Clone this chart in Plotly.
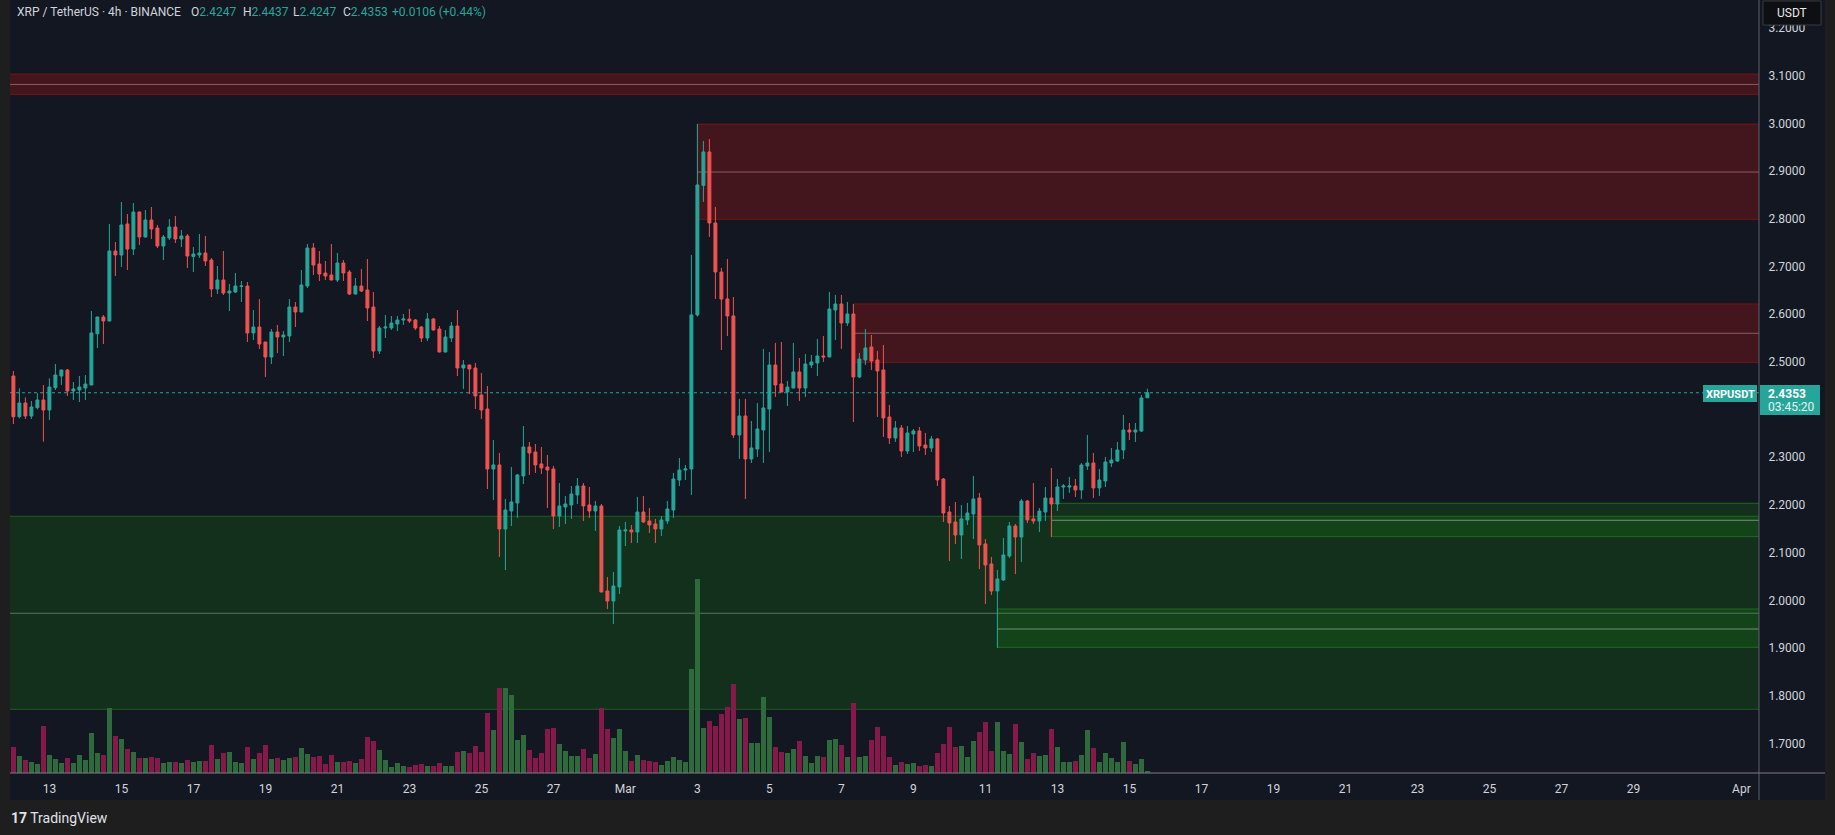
import plotly.graph_objects as go
import pandas as pd

# ---------------- data ----------------
opens = [2.4704,2.3851,2.4138,2.3865,2.4040,2.4201,2.3991,2.4460,2.4704,2.4830,
 2.4390,2.4411,2.4452,2.4515,2.5590,2.5941,2.5857,2.7325,2.7241,2.7891,
 2.7366,2.8142,2.7618,2.7974,2.7807,2.7429,2.7597,2.7828,2.7576,2.7639,
 2.7210,2.7241,2.7283,2.7136,2.6528,2.6717,2.6444,2.6465,2.6580,2.6591,
 2.5606,2.5731,2.5417,2.5102,2.5626,2.5522,2.5543,2.6151,2.6046,2.6591,
 2.7387,2.7052,2.6863,2.6821,2.6717,2.7073,2.6884,2.6423,2.6591,2.6507,
 2.6151,2.5228,2.5710,2.5710,2.5794,2.5878,2.5899,2.5878,2.5731,2.5501,
 2.5899,2.5689,2.5207,2.5501,2.5752,2.4872,2.4935,2.4872,2.4306,2.4012,
 2.2755,2.2839,2.1497,2.1874,2.2042,2.2608,2.3216,2.3111,2.2860,2.2797,
 2.2755,2.1769,2.1958,2.2000,2.2210,2.2398,2.2000,2.1874,2.1979,2.0197,
 1.9987,2.0281,2.1455,2.1476,2.1434,2.1853,2.1665,2.1602,2.1497,2.1665,
 2.1895,2.2524,2.2734,2.2755,2.5984,2.8700,2.9401,2.7912,2.6885,2.6319,
 2.5963,2.3468,2.3866,2.2965,2.3174,2.3573,2.4013,2.4935,2.4537,2.4369,
 2.4453,2.4789,2.4453,2.4935,2.4977,2.5124,2.5103,2.6088,2.6214,2.5816,
 2.6005,2.4684,2.5040,2.5313,2.5040,2.4831,2.3845,2.3405,2.3614,2.3132,
 2.3489,2.3552,2.3258,2.3195,2.3384,2.2545,2.1853,2.1644,2.1371,2.1686,
 2.1811,2.2147,2.1183,2.0763,2.0197,2.0428,2.0931,2.1560,2.1329,2.2084,
 2.1707,2.1665,2.1853,2.2147,2.2021,2.2377,2.2377,2.2398,2.2315,2.2818,
 2.2881,2.2357,2.2503,2.2881,2.2922,2.3153,2.3572,2.3530,2.3551,2.4247]
highs = [2.4809,2.4446,2.4257,2.4180,2.4341,2.4515,2.4655,2.4956,2.4835,2.4851,
 2.4578,2.4704,2.4725,2.6067,2.5945,2.5983,2.7891,2.7513,2.8352,2.8100,
 2.8331,2.8150,2.8184,2.8247,2.7870,2.7660,2.7995,2.8058,2.7765,2.7681,
 2.7408,2.7681,2.7639,2.7178,2.7010,2.7325,2.6633,2.6863,2.6696,2.6675,
 2.6088,2.6318,2.5420,2.5689,2.5773,2.5647,2.6318,2.6255,2.6926,2.7471,
 2.7492,2.7325,2.7115,2.7471,2.7283,2.7136,2.6926,2.6759,2.6947,2.7157,
 2.6465,2.5752,2.5983,2.5962,2.5962,2.6004,2.6109,2.5899,2.5752,2.6025,
 2.5920,2.5752,2.5668,2.5836,2.6088,2.5039,2.4940,2.4977,2.4767,2.4494,
 2.3363,2.3090,2.2126,2.2797,2.2650,2.3656,2.3321,2.3279,2.3216,2.3048,
 2.2818,2.2461,2.2189,2.2398,2.2566,2.2461,2.2377,2.2084,2.2021,2.0491,
 2.0596,2.1560,2.1644,2.1581,2.2168,2.2189,2.1937,2.1707,2.1769,2.2084,
 2.2671,2.2985,2.2839,2.7242,2.9988,2.9631,2.9673,2.8248,2.6969,2.7158,
 2.6361,2.4223,2.4223,2.3761,2.4139,2.5271,2.5208,2.5397,2.5418,2.4600,
 2.5397,2.5082,2.5166,2.5145,2.5481,2.5543,2.6466,2.6403,2.6403,2.6256,
 2.6214,2.5187,2.5690,2.5564,2.5229,2.5355,2.4097,2.3761,2.3677,2.3656,
 2.3593,2.3635,2.3510,2.3447,2.3405,2.2566,2.1979,2.2063,2.2000,2.2042,
 2.2608,2.2252,2.1287,2.0910,2.0638,2.1308,2.1644,2.1602,2.2126,2.2105,
 2.2461,2.1937,2.2377,2.2776,2.2545,2.2440,2.2587,2.2545,2.2881,2.3468,
 2.3090,2.2755,2.3006,2.3195,2.3321,2.3887,2.3719,2.3719,2.4306,2.4437]
lows = [2.3698,2.3817,2.3803,2.3803,2.4005,2.3327,2.3782,2.4411,2.4515,2.4285,
 2.4201,2.4159,2.4201,2.4510,2.5291,2.5375,2.5850,2.6800,2.6989,2.6926,
 2.7241,2.7450,2.7610,2.7576,2.7387,2.7136,2.7555,2.7492,2.7408,2.6968,
 2.6884,2.7178,2.7010,2.6360,2.6423,2.6402,2.6067,2.6444,2.6255,2.5417,
 2.5459,2.5270,2.4683,2.4956,2.5186,2.5123,2.5417,2.5731,2.6040,2.6549,
 2.6821,2.6696,2.6717,2.6710,2.6675,2.6696,2.6402,2.6415,2.6465,2.5857,
 2.5081,2.5165,2.5501,2.5668,2.5647,2.5773,2.5815,2.5668,2.5417,2.5438,
 2.5660,2.5200,2.5200,2.5417,2.4704,2.4432,2.4327,2.4012,2.3803,2.2335,
 2.2105,2.0910,2.0637,2.1560,2.1728,2.2440,2.2629,2.2671,2.2650,2.1937,
 2.1497,2.1539,2.1602,2.1707,2.2021,2.1665,2.1728,2.1455,2.0170,1.9820,
 1.9505,2.0134,2.1140,2.1203,2.1203,2.1623,2.1413,2.1203,2.1350,2.1602,
 2.1728,2.2398,2.2524,2.2210,2.5950,2.8353,2.7619,2.6319,2.5250,2.5543,
 2.3405,2.2965,2.2126,2.2881,2.3007,2.2881,2.3112,2.4265,2.4360,2.4076,
 2.4445,2.4181,2.4265,2.4873,2.4705,2.4998,2.5100,2.5460,2.5271,2.5753,
 2.3740,2.4663,2.4935,2.4831,2.3845,2.3426,2.3279,2.3321,2.3006,2.3069,
 2.3111,2.3132,2.3048,2.3111,2.2398,2.1644,2.0826,2.1183,2.0868,2.1581,
 2.1287,2.0658,1.9925,2.0113,1.9002,2.0407,2.0889,2.0554,2.0805,2.1623,
 2.1602,2.1434,2.1665,2.1329,2.1874,2.2126,2.2252,2.2168,2.2126,2.2734,
 2.2147,2.2189,2.2377,2.2797,2.2902,2.2964,2.3363,2.3321,2.3530,2.4247]
closes = [2.3851,2.4138,2.3865,2.4054,2.4201,2.3991,2.4473,2.4725,2.4830,2.4390,
 2.4432,2.4473,2.4536,2.5606,2.5941,2.5857,2.7325,2.7241,2.7870,2.7366,
 2.8142,2.7618,2.7974,2.7786,2.7429,2.7618,2.7828,2.7576,2.7639,2.7220,
 2.7262,2.7283,2.7115,2.6528,2.6717,2.6444,2.6486,2.6591,2.6591,2.5606,
 2.5731,2.5375,2.5102,2.5626,2.5522,2.5564,2.6151,2.6046,2.6612,2.7387,
 2.7031,2.6842,2.6800,2.6717,2.7073,2.6863,2.6423,2.6591,2.6486,2.6130,
 2.5228,2.5710,2.5731,2.5815,2.5878,2.5899,2.5857,2.5710,2.5501,2.5899,
 2.5668,2.5207,2.5522,2.5752,2.4872,2.4935,2.4851,2.4285,2.3991,2.2755,
 2.2839,2.1497,2.1895,2.2063,2.2629,2.3216,2.3090,2.2839,2.2776,2.2734,
 2.1769,2.1979,2.2021,2.2231,2.2398,2.1979,2.1874,2.1979,2.0176,1.9987,
 2.0302,2.1476,2.1476,2.1434,2.1853,2.1644,2.1581,2.1497,2.1686,2.1916,
 2.2545,2.2734,2.2755,2.5984,2.8709,2.9401,2.7912,2.6885,2.6319,2.5963,
 2.3468,2.3866,2.2965,2.3195,2.3594,2.4034,2.4935,2.4516,2.4369,2.4474,
 2.4789,2.4453,2.4956,2.4998,2.5124,2.5103,2.6109,2.6214,2.5816,2.6005,
 2.4684,2.5061,2.5292,2.5019,2.4810,2.3824,2.3405,2.3615,2.3132,2.3510,
 2.3552,2.3237,2.3195,2.3384,2.2524,2.1832,2.1623,2.1371,2.1707,2.1832,
 2.2126,2.1162,2.0742,2.0197,2.0449,2.0952,2.1560,2.1329,2.2084,2.1686,
 2.1665,2.1874,2.2147,2.2021,2.2377,2.2398,2.2398,2.2315,2.2839,2.2881,
 2.2357,2.2524,2.2902,2.2943,2.3153,2.3572,2.3530,2.3572,2.4243,2.4353]
volumes = [26.3,17.3,13.3,11.3,9.3,47.3,18.3,14.3,10.3,15.3,
 10.3,18.3,13.3,40.3,20.3,18.3,65.3,37.3,34.3,24.3,
 21.3,15.3,15.3,16.3,15.3,10.3,11.3,11.3,10.3,13.3,
 11.3,12.3,12.3,28.3,14.3,20.3,21.3,11.3,10.3,26.3,
 14.3,20.3,28.3,14.3,15.3,13.3,15.3,16.3,25.3,19.3,
 16.3,17.3,9.3,18.3,11.3,11.3,12.3,10.3,14.3,36.3,
 32.3,23.3,13.3,6.3,10.3,7.3,6.3,8.3,9.3,7.3,
 7.3,10.3,7.3,7.3,21.3,22.3,20.3,27.3,21.3,60.3,
 43.3,85.3,85.3,78.3,33.3,38.3,23.3,15.3,20.3,44.3,
 45.3,29.3,22.3,17.3,17.3,24.3,15.3,19.3,65.3,44.3,
 35.3,44.3,22.3,12.3,18.3,13.3,12.3,11.3,8.3,12.3,
 16.3,13.3,11.3,104.3,194.3,45.3,52.3,47.3,59.3,66.3,
 89.3,54.3,55.3,30.3,30.3,76.3,56.3,26.3,21.3,20.3,
 24.3,32.3,17.3,10.3,17.3,16.3,33.3,34.3,28.3,16.3,
 70.3,16.3,17.3,33.3,46.3,37.3,16.3,8.3,11.3,9.3,
 10.3,7.3,8.3,7.3,20.3,29.3,46.3,26.3,27.3,16.3,
 32.3,41.3,51.3,22.3,51.3,22.3,19.3,49.3,31.3,14.3,
 20.3,17.3,18.3,44.3,26.3,11.3,11.3,12.3,18.3,43.3,
 25.3,11.3,20.3,15.3,11.3,31.3,12.3,9.3,14.3,2.3]

first_bar = "2025-02-12 00:00"
last_price = 2.4353

# zones: (start time, low, mid, high)
red_zones = [("2025-02-01 00:00", 3.0607, 3.0817, 3.1033),
             ("2025-03-03 00:00", 2.7990, 2.8980, 2.9985),
             ("2025-03-07 08:00", 2.4990, 2.5600, 2.6214)]
green_zones = [("2025-02-01 00:00", 1.7717, 1.9730, 2.1763),
               ("2025-03-12 20:00", 2.1336, 2.1679, 2.2036),
               ("2025-03-11 08:00", 1.9017, 1.9400, 1.9819)]

# 2.4 is hidden behind the last-price label in the reference
price_ticks = [1.7, 1.8, 1.9, 2.0, 2.1, 2.2, 2.3, 2.5, 2.6, 2.7, 2.8, 2.9, 3.0, 3.1, 3.2]
date_ticks = ["2025-02-13", "2025-02-15", "2025-02-17", "2025-02-19", "2025-02-21", "2025-02-23",
              "2025-02-25", "2025-02-27", "2025-03-01", "2025-03-03", "2025-03-05", "2025-03-07",
              "2025-03-09", "2025-03-11", "2025-03-13", "2025-03-15", "2025-03-17", "2025-03-19",
              "2025-03-21", "2025-03-23", "2025-03-25", "2025-03-27", "2025-03-29", "2025-04-01"]
date_labels = ["13", "15", "17", "19", "21", "23", "25", "27", "Mar", "3", "5", "7", "9", "11",
               "13", "15", "17", "19", "21", "23", "25", "27", "29", "Apr"]

# ---------------- figure ----------------
W, H = 1835, 835
PL, PR, PT, PB = 10, 1759, 0, 773  # plot area in pixels

def px_x(px):
    return (px - PL) / (PR - PL)

def px_y(py):
    return (PB - py) / (PB - PT)

UP, DN = "#26a69a", "#ef5350"
VUP, VDN = "#2e6a3b", "#851a4a"
TXT = "#d1d4dc"
FONT = "Roboto"

times = pd.date_range(first_bar, periods=len(opens), freq="4h")
vol_colors = [VUP if c >= o else VDN for o, c in zip(opens, closes)]

fig = go.Figure()
fig.add_trace(go.Bar(x=times, y=volumes, marker=dict(color=vol_colors, line=dict(width=0)),
                     width=0.8 * 4 * 3600 * 1000, yaxis="y", hoverinfo="skip"))
fig.add_trace(go.Candlestick(x=times, open=opens, high=highs, low=lows, close=closes, yaxis="y2",
                             increasing=dict(line=dict(color=UP, width=1), fillcolor=UP),
                             decreasing=dict(line=dict(color=DN, width=1), fillcolor=DN),
                             whiskerwidth=0))

shapes = []
# panel background
shapes.append(dict(type="rect", xref="paper", yref="paper", x0=px_x(10), x1=px_x(1825),
                   y0=px_y(800), y1=px_y(0), fillcolor="#131722", line=dict(width=0), layer="below"))
# price line
shapes.append(dict(type="line", xref="paper", yref="y2", x0=0, x1=1, y0=last_price, y1=last_price,
                   line=dict(color=UP, width=1, dash="dot"), layer="below"))
END = "2025-04-10 00:00"
for i, (t0, lo, mid, hi) in enumerate(green_zones):
    shapes.append(dict(type="rect", xref="x", yref="y2", x0=t0, x1=END, y0=lo, y1=hi,
                       fillcolor="rgba(20,150,10,0.2)",
                       line=dict(color="#1e5e1e" if i == 0 else "#1d6d1d", width=1), layer="below"))
    shapes.append(dict(type="line", xref="x", yref="y2", x0=t0, x1=END, y0=mid, y1=mid,
                       line=dict(color="#5f705f" if i == 0 else "#7a8a7a", width=1), layer="below"))
for t0, lo, mid, hi in red_zones:
    shapes.append(dict(type="rect", xref="x", yref="y2", x0=t0, x1=END, y0=lo, y1=hi,
                       fillcolor="rgba(180,20,20,0.3)", line=dict(color="#741515", width=1), layer="below"))
    shapes.append(dict(type="line", xref="x", yref="y2", x0=t0, x1=END, y0=mid, y1=mid,
                       line=dict(color="#8e5a60", width=1), layer="below"))
# separators
shapes.append(dict(type="line", xref="paper", yref="paper", x0=px_x(1759), x1=px_x(1759),
                   y0=px_y(800), y1=px_y(0), line=dict(color="#5d6068", width=1), layer="above"))
shapes.append(dict(type="line", xref="paper", yref="paper", x0=px_x(10), x1=px_x(1825),
                   y0=px_y(773), y1=px_y(773), line=dict(color="#7c7f86", width=1), layer="above"))
# label boxes
shapes.append(dict(type="rect", xref="paper", yref="paper", x0=px_x(1760), x1=px_x(1820),
                   y0=px_y(415), y1=px_y(385), fillcolor=UP, line=dict(width=0), layer="above"))
shapes.append(dict(type="rect", xref="paper", yref="paper", x0=px_x(1703), x1=px_x(1757),
                   y0=px_y(402), y1=px_y(385), fillcolor=UP, line=dict(width=0), layer="above"))
shapes.append(dict(type="rect", xref="paper", yref="paper", x0=px_x(1763), x1=px_x(1821),
                   y0=px_y(25), y1=px_y(1), fillcolor="#0e0f12", line=dict(color="#3a3b3f", width=1),
                   layer="above"))

ann = []
def txt(px, py, text, size=12, color=TXT, xanchor="left"):
    ann.append(dict(xref="paper", yref="paper", x=px_x(px), y=px_y(py), text=text, showarrow=False,
                    xanchor=xanchor, yanchor="middle", borderpad=0,
                    font=dict(family=FONT, size=size, color=color)))

def teal(s):
    return "<span style='color:%s'>%s</span>" % (UP, s)

txt(16, 12, "XRP / TetherUS · 4h · BINANCE")
txt(190, 12, "O" + teal("2.4247"))
txt(242, 12, "H" + teal("2.4437"))
txt(292, 12, "L" + teal("2.4247"))
txt(342, 12, "C" + teal("2.4353"))
txt(391, 12, teal("+0.0106 (+0.44%)"))
txt(1792, 13, "USDT", size=12, color="#e8e8e8", xanchor="center")
txt(1767, 394, "<b>2.4353</b>", size=12, color="#ffffff")
txt(1767, 407, "03:45:20", size=12, color="#e6f4f2")
txt(1730, 394, "<b>XRPUSDT</b>", size=11, color="#ffffff", xanchor="center")
txt(10, 818, "<b>17</b> TradingView", size=14, color="#e0e3eb")

fig.update_layout(
    width=W, height=H, margin=dict(l=PL, r=W - PR, t=PT, b=H - PB),
    paper_bgcolor="#1e1e1e", plot_bgcolor="#131722", showlegend=False,
    shapes=shapes, annotations=ann, bargap=0, boxgap=0.3,
    font=dict(family=FONT, color=TXT, size=12),
    xaxis=dict(type="date", range=["2025-02-11 21:44", "2025-04-01 11:44"], showgrid=False,
               zeroline=False, showline=False, rangeslider=dict(visible=False),
               tickvals=date_ticks, ticktext=date_labels, ticks="outside", ticklen=5,
               tickcolor="rgba(0,0,0,0)", tickfont=dict(family=FONT, size=12, color=TXT)),
    yaxis=dict(range=[0, PB - PT], visible=False, showgrid=False, zeroline=False, fixedrange=True),
    yaxis2=dict(range=[1.6381, 3.2587], overlaying="y", side="right", showgrid=False, zeroline=False,
                showline=False, tickvals=price_ticks, tickformat=".4f", ticks="outside", ticklen=6,
                tickcolor="rgba(0,0,0,0)", tickfont=dict(family=FONT, size=12, color=TXT)),
)

fig.write_html("out.html", config={"displayModeBar": False},
               post_script="document.body.style.margin='0';document.body.style.background='#1e1e1e';"
                           "document.body.style.overflow='hidden';")
